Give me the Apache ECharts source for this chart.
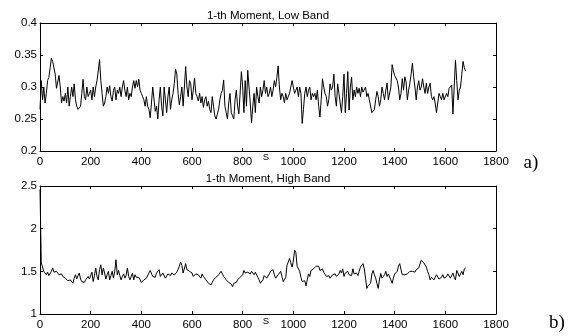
<!DOCTYPE html>
<html><head><meta charset="utf-8">
<script src="https://cdn.jsdelivr.net/npm/echarts@6/dist/echarts.min.js"></script>
<style>html,body{margin:0;padding:0;background:#fff}#c{width:580px;height:336px}</style>
</head><body><div id="c"></div>
<script>
const xStep = 5;
const xTicks = [0,200,400,600,800,1000,1200,1400,1600,1800];
const lowTitle = '1-th Moment, Low Band';
const highTitle = '1-th Moment, High Band';
const xName = 'S';
const lowBand = [
0.265,0.31,0.28,0.30,0.275,0.29,0.31,0.315,0.33,0.345,0.34,0.341,0.32,0.298,0.295,0.318,0.30,0.275,0.285,0.278,
0.29,0.275,0.30,0.27,0.285,0.30,0.285,0.305,0.28,0.27,0.265,0.262,0.27,0.29,0.312,0.285,0.28,0.30,0.285,0.29,
0.295,0.28,0.30,0.285,0.30,0.31,0.325,0.343,0.31,0.29,0.27,0.275,0.285,0.30,0.29,0.302,0.285,0.278,0.295,0.30,
0.28,0.295,0.29,0.30,0.285,0.30,0.31,0.295,0.285,0.30,0.28,0.29,0.285,0.30,0.31,0.298,0.31,0.30,0.312,0.295,
0.29,0.285,0.28,0.27,0.285,0.27,0.265,0.252,0.275,0.30,0.298,0.262,0.27,0.25,0.28,0.30,0.27,0.255,0.30,0.28,
0.26,0.285,0.30,0.265,0.28,0.29,0.305,0.328,0.32,0.29,0.272,0.285,0.30,0.27,0.30,0.332,0.30,0.285,0.31,0.305,
0.28,0.295,0.314,0.29,0.285,0.278,0.29,0.275,0.285,0.268,0.28,0.285,0.27,0.278,0.265,0.26,0.285,0.27,0.255,0.25,
0.252,0.265,0.28,0.29,0.295,0.311,0.27,0.26,0.25,0.275,0.29,0.26,0.255,0.25,0.28,0.295,0.27,0.258,0.255,0.324,
0.30,0.26,0.31,0.27,0.326,0.30,0.275,0.244,0.27,0.29,0.26,0.30,0.285,0.275,0.30,0.285,0.295,0.31,0.29,0.30,
0.285,0.29,0.30,0.285,0.295,0.31,0.30,0.315,0.333,0.30,0.28,0.29,0.285,0.275,0.29,0.28,0.285,0.29,0.30,0.31,
0.30,0.29,0.295,0.30,0.285,0.30,0.29,0.243,0.265,0.29,0.30,0.285,0.295,0.30,0.28,0.29,0.285,0.29,0.28,0.295,
0.27,0.253,0.28,0.313,0.30,0.29,0.285,0.27,0.28,0.305,0.295,0.30,0.32,0.285,0.27,0.305,0.29,0.275,0.26,0.285,
0.32,0.26,0.29,0.324,0.264,0.30,0.315,0.28,0.295,0.285,0.30,0.29,0.298,0.285,0.30,0.292,0.295,0.30,0.285,0.29,
0.28,0.282,0.26,0.262,0.265,0.28,0.293,0.285,0.27,0.28,0.30,0.29,0.28,0.295,0.306,0.28,0.282,0.30,0.335,0.325,
0.318,0.32,0.31,0.30,0.28,0.29,0.313,0.295,0.316,0.308,0.28,0.295,0.306,0.32,0.337,0.316,0.30,0.28,0.30,0.31,
0.295,0.30,0.313,0.30,0.29,0.306,0.29,0.30,0.306,0.285,0.28,0.285,0.275,0.26,0.275,0.29,0.285,0.28,0.29,0.28,
0.28,0.29,0.285,0.298,0.30,0.303,0.258,0.30,0.342,0.31,0.28,0.295,0.30,0.32,0.34,0.33,0.325
];
const highBand = [
2.46,1.60,1.59,1.50,1.48,1.46,1.49,1.45,1.47,1.50,1.54,1.49,1.47,1.50,1.48,1.46,1.48,1.47,1.44,1.45,
1.42,1.43,1.39,1.41,1.40,1.38,1.36,1.42,1.46,1.41,1.45,1.48,1.41,1.38,1.36,1.37,1.40,1.38,1.44,1.41,
1.43,1.49,1.38,1.45,1.54,1.44,1.40,1.52,1.577,1.46,1.54,1.48,1.41,1.46,1.50,1.40,1.45,1.50,1.42,1.50,
1.636,1.46,1.51,1.45,1.40,1.44,1.47,1.42,1.45,1.54,1.44,1.40,1.42,1.48,1.40,1.46,1.43,1.41,1.43,1.40,
1.37,1.36,1.40,1.39,1.42,1.40,1.48,1.51,1.50,1.44,1.46,1.43,1.48,1.50,1.52,1.44,1.46,1.48,1.47,1.42,
1.44,1.47,1.47,1.45,1.48,1.47,1.456,1.47,1.49,1.50,1.56,1.61,1.57,1.48,1.50,1.59,1.52,1.53,1.50,1.52,
1.48,1.44,1.44,1.47,1.49,1.46,1.44,1.42,1.47,1.44,1.42,1.40,1.38,1.36,1.34,1.34,1.37,1.40,1.41,1.43,
1.44,1.46,1.48,1.50,1.47,1.44,1.42,1.40,1.38,1.37,1.36,1.35,1.32,1.36,1.38,1.37,1.40,1.40,1.43,1.41,
1.46,1.51,1.48,1.47,1.49,1.50,1.47,1.50,1.51,1.46,1.49,1.48,1.43,1.40,1.36,1.38,1.40,1.45,1.47,1.42,
1.40,1.47,1.50,1.48,1.52,1.46,1.42,1.40,1.46,1.48,1.50,1.44,1.38,1.40,1.43,1.57,1.59,1.65,1.60,1.55,
1.62,1.75,1.72,1.56,1.58,1.50,1.43,1.38,1.40,1.39,1.33,1.40,1.47,1.44,1.51,1.50,1.53,1.52,1.56,1.55,
1.56,1.51,1.52,1.53,1.49,1.475,1.44,1.46,1.45,1.42,1.44,1.46,1.45,1.47,1.44,1.46,1.47,1.51,1.48,1.53,
1.44,1.48,1.49,1.50,1.46,1.44,1.45,1.53,1.47,1.46,1.48,1.45,1.50,1.55,1.57,1.59,1.53,1.42,1.30,1.33,
1.32,1.36,1.47,1.51,1.46,1.42,1.36,1.30,1.40,1.475,1.42,1.40,1.46,1.50,1.44,1.47,1.46,1.40,1.36,1.42,
1.47,1.49,1.50,1.56,1.59,1.52,1.46,1.44,1.46,1.48,1.47,1.49,1.50,1.48,1.50,1.51,1.49,1.52,1.51,1.54,
1.55,1.63,1.62,1.60,1.58,1.55,1.50,1.46,1.40,1.43,1.42,1.40,1.43,1.46,1.44,1.41,1.40,1.43,1.46,1.42,
1.40,1.44,1.47,1.45,1.42,1.45,1.48,1.43,1.40,1.51,1.48,1.44,1.47,1.50,1.46,1.53,1.54
];
const lowY = {min:0.2, max:0.4, interval:0.05};
const highY = {min:1, max:2.5, interval:0.5};

const FONT = 'Liberation Sans, Arial, sans-serif';
const pairs = arr => arr.map((v,i)=>[i*xStep, v]);
const tickStyle = {show:true, inside:true, length:3, lineStyle:{color:'#000', width:1}};
function xAx(g, pos, lab){
  return {type:'value', gridIndex:g, position:pos, min:xTicks[0], max:xTicks[xTicks.length-1],
    interval:xTicks[1]-xTicks[0], splitLine:{show:false},
    axisLine:{show:true, onZero:false, lineStyle:{color:'#000', width:1}},
    axisTick:tickStyle,
    axisLabel:{show:lab, color:'#000', fontSize:11.5, fontFamily:FONT, margin:5, formatter:v=>String(v)}};
}
function yAx(g, pos, lab, r){
  return {type:'value', gridIndex:g, position:pos, min:r.min, max:r.max, interval:r.interval,
    splitLine:{show:false},
    axisLine:{show:true, onZero:false, lineStyle:{color:'#000', width:1}},
    axisTick:tickStyle,
    axisLabel:{show:lab, color:'#000', fontSize:11.5, fontFamily:FONT, margin:3, formatter:v=>String(+v.toFixed(4))}};
}
const chart = echarts.init(document.getElementById('c'), null, {renderer:'canvas'});
chart.setOption({
  animation:false,
  backgroundColor:'#fff',
  grid:[{left:40, right:84, top:23, height:128},{left:40, right:84, top:186, height:128}],
  xAxis:[xAx(0,'bottom',true), xAx(0,'top',false), xAx(1,'bottom',true), xAx(1,'top',false)],
  yAxis:[yAx(0,'left',true,lowY), yAx(0,'right',false,lowY), yAx(1,'left',true,highY), yAx(1,'right',false,highY)],
  series:[
    {type:'line', xAxisIndex:0, yAxisIndex:0, data:pairs(lowBand), symbol:'none', lineStyle:{color:'#000', width:1}},
    {type:'line', xAxisIndex:2, yAxisIndex:2, data:pairs(highBand), symbol:'none', lineStyle:{color:'#000', width:1}}
  ],
  graphic:[
    {type:'text', x:268, y:16, style:{text:lowTitle, fill:'#000', font:'11.5px '+FONT, textAlign:'center', textVerticalAlign:'middle'}},
    {type:'text', x:268, y:179, style:{text:highTitle, fill:'#000', font:'11.5px '+FONT, textAlign:'center', textVerticalAlign:'middle'}},
    {type:'text', x:266, y:157, style:{text:xName, fill:'#000', font:'9.5px '+FONT, textAlign:'center', textVerticalAlign:'middle'}},
    {type:'text', x:266, y:321, style:{text:xName, fill:'#000', font:'9.5px '+FONT, textAlign:'center', textVerticalAlign:'middle'}},
    {type:'text', x:531, y:163, style:{text:'a)', fill:'#000', font:'19px Liberation Serif, Times New Roman, serif', textAlign:'center', textVerticalAlign:'middle'}},
    {type:'text', x:557, y:323, style:{text:'b)', fill:'#000', font:'19px Liberation Serif, Times New Roman, serif', textAlign:'center', textVerticalAlign:'middle'}}
  ]
});
</script></body></html>
